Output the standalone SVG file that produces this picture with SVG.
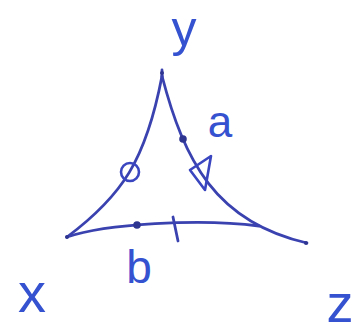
<svg xmlns="http://www.w3.org/2000/svg" width="363" height="332" viewBox="0 0 363 332">
<style>
.e{fill:none;stroke:#3a42b0;stroke-width:2.8;stroke-linecap:round;stroke-linejoin:round}
.m{fill:none;stroke:#3a46c0;stroke-width:2.6;stroke-linejoin:round}
.d{fill:#2e3590}
.t{font-family:"Liberation Sans",Arial,sans-serif;fill:#3552d0;text-anchor:middle}
</style>
<rect width="363" height="332" fill="#fff"/>
<g id="connectors">
<path class="e" d="M162,76 C146,160 122,196 67,237"/>
<path class="e" d="M162,76 C184,160 215,222 307,243"/>
<path class="e" d="M67,237 C105,224 200,218 259,226"/>
<path class="e" d="M162,70 L162,78"/>
<circle class="m" cx="130" cy="172" r="9"/>
<circle class="d" cx="183" cy="139" r="3.8"/>
<polygon class="m" points="190,170 211,156 205,190"/>
<circle class="d" cx="137" cy="225" r="3.8"/>
<path class="e" d="M173,217 L178,241"/>
</g>
<g id="node-y"><circle class="d" cx="162" cy="73" r="2"/><text class="t" x="184" y="46" font-size="50">y</text></g>
<g id="node-x"><circle class="d" cx="67" cy="237" r="2"/><text class="t" x="32" y="312" font-size="56">x</text></g>
<g id="node-z"><circle class="d" cx="306" cy="243" r="2"/><text class="t" x="340" y="322" font-size="54">z</text></g>
<g id="label-a"><text class="t" x="220" y="137" font-size="44">a</text></g>
<g id="label-b"><text class="t" x="139" y="283" font-size="46">b</text></g>
</svg>
